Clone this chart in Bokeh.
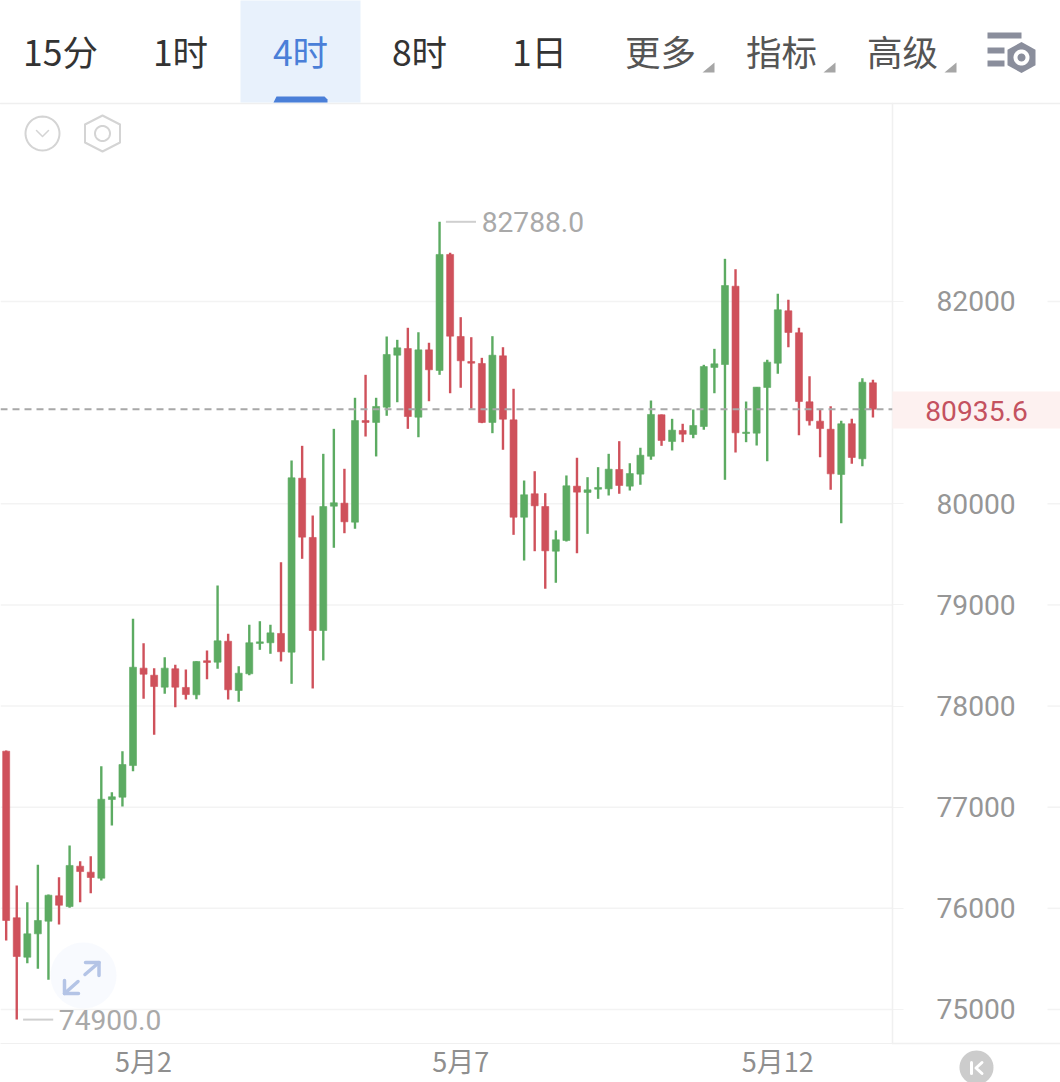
import math
from bokeh.plotting import figure
from bokeh.models import Range1d, FixedTicker, Span, LinearAxis
from bokeh.core.properties import value
from bokeh.embed import file_html
from bokeh.resources import INLINE

opens = [77554,75907,75517,75748,75873,76124,76018,76417,76358,76298,77076,77099,77412,78375,78305,78187,78369,78184,78111,78448,78434,78641,78154,78319,78619,78626,78718,78533,80253,79667,78747,79976,80006,79818,80823,80804,80955,81469,81535,80856,81522,81318,82465,81654,81407,81387,80804,81463,80830,79867,80099,79973,79531,79637,80174,80112,80144,80148,80339,80174,80293,80470,80880,80616,80725,80685,80764,81348,81377,82151,80695,80698,81150,81390,81908,81691,81008,80817,80737,80290,80791,80445,81196]
closes = [75880,75524,75748,75880,76130,76031,76424,76364,76305,77079,77103,77422,78384,78315,78193,78375,78187,78114,78441,78431,78645,78161,78325,78626,78635,78724,78537,80257,79670,78747,79973,80010,79822,80823,80804,80962,81476,81542,80863,81522,81325,82465,81657,81414,81390,80804,81469,80836,79867,80089,79980,79535,79644,80178,80115,80138,80161,80342,80181,80299,80480,80883,80626,80728,80688,80774,81357,81384,82158,80702,80708,81153,81400,81918,81694,81011,80821,80744,80296,80791,80458,81202,80935.6]
highs = [77560,76226,76061,76431,76137,76308,76622,76466,76516,77406,77149,77554,78863,78622,78375,78483,78408,78362,78444,78549,79192,78715,78394,78804,78839,78804,79422,80428,80573,79884,80494,80741,80346,81048,81275,81048,81654,81621,81740,81696,81592,82788,82482,81845,81647,81443,81657,81548,81137,80230,80322,80105,79736,80280,80455,80263,80362,80494,80619,80401,80554,81021,80883,80840,80791,80932,81374,81532,82422,82319,81011,81153,81424,82076,82017,81740,81261,80932,80965,80821,80840,81242,81226]
lows = [75682,74900,75458,75402,75294,75840,76006,76061,76150,76275,76819,77007,77356,78072,77716,78121,77989,78065,78068,78266,78369,78065,78042,78305,78556,78517,78441,78220,79456,78174,78451,79565,79709,79753,80665,80468,80870,81004,80741,80658,81014,81275,81093,81147,80939,80797,80698,80534,79693,79439,79531,79160,79219,79627,79511,79703,80049,80082,80099,80131,80188,80435,80573,80527,80609,80648,80732,81093,80237,80507,80609,80576,80421,81285,81548,80678,80774,80461,80138,79808,80395,80372,80853]
price_ticks = [75000,76000,77000,78000,79000,80000,82000]
date_ticks = {13: "5月2", 43: "5月7", 73: "5月12"}
tabs = ["15分", "1时", "4时", "8时", "1日", "更多", "指标", "高级"]
tab_x = [60, 180, 300, 419, 539, 660, 781, 902]

GREEN = "#5cab62"
RED = "#cf515b"
CJK = "Noto Sans CJK SC"
NUM = "Roboto"

p = figure(width=1060, height=1082, output_backend="svg", toolbar_location=None,
           x_range=Range1d(-0.5364, 83.85), y_range=Range1d(74663.8, 83957.6),
           min_border_left=0, min_border_right=168, min_border_top=103, min_border_bottom=39,
           outline_line_color=None, background_fill_color="white", border_fill_color="white",
           x_axis_type=None, y_axis_type=None)
p.extra_x_ranges["px"] = Range1d(0, 892)
p.extra_y_ranges["py"] = Range1d(1043, 103)

# axes
yax = LinearAxis(ticker=FixedTicker(ticks=price_ticks))
yax.axis_line_color = "#f0f0f0"
yax.major_tick_line_color = "#f3f3f3"
yax.major_tick_out = 11
yax.major_tick_in = 0
yax.minor_tick_line_color = None
yax.major_label_standoff = 33
yax.major_label_text_font = NUM
yax.major_label_text_font_size = "28.2px"
yax.major_label_text_color = "#969696"
yax.major_label_orientation = "horizontal"
p.add_layout(yax, "right")

xax = LinearAxis(ticker=FixedTicker(ticks=list(date_ticks)), major_label_overrides=date_ticks)
xax.axis_line_color = "#f0f0f0"
xax.major_tick_line_color = None
xax.major_tick_out = 0
xax.major_tick_in = 0
xax.minor_tick_line_color = None
xax.major_label_standoff = -3
xax.major_label_text_font = CJK
xax.major_label_text_font_size = "27px"
xax.major_label_text_color = "#8f8f8f"
p.add_layout(xax, "below")

# horizontal grid
idx = list(range(len(opens)))
p.segment(x0=[0]*len(price_ticks), x1=[892]*len(price_ticks), y0=price_ticks, y1=price_ticks,
          x_range_name="px", line_color="#f3f3f3", line_width=1.5)

# candles
colors = [GREEN if c >= o else RED for o, c in zip(opens, closes)]
p.segment(x0=idx, x1=idx, y0=lows, y1=highs, line_color=colors, line_width=2.4)
p.quad(left=[i-0.33 for i in idx], right=[i+0.33 for i in idx],
       bottom=[min(o, c) for o, c in zip(opens, closes)],
       top=[max(o, c) for o, c in zip(opens, closes)],
       fill_color=colors, line_color=colors, line_width=0.6)

# last price
last = closes[-1]
p.add_layout(Span(location=last, dimension="width", line_color="#a8a8a8", line_width=2, line_dash="7 5", level="overlay"))

# high / low markers
hi = highs.index(max(highs))
lo = lows.index(min(lows))
for i, v in ((hi, highs[hi]), (lo, lows[lo])):
    p.segment(x0=[i+0.6], x1=[i+3.45], y0=[v], y1=[v], line_color="#cfcfcf", line_width=2, level="overlay")
    p.text(x=[i+3.98], y=[v], text=[f"{v:.1f}"], text_font=value(NUM), text_font_size="28.2px",
           text_color="#a9a9a9", text_align="left", text_baseline="middle", level="overlay")

# interface chrome in page pixels
ui = dict(x_range_name="px", y_range_name="py", level="overlay")

def poly(xs, ys, color, alpha=1.0):
    p.patch(x=xs, y=ys, fill_color=color, fill_alpha=alpha, line_color=None, **ui)

def stroke(xs, ys, color, width):
    p.line(x=xs, y=ys, line_color=color, line_width=width, line_cap="round", line_join="round", **ui)

def ring(cx, cy, r):
    n = 48
    return ([cx + r*math.cos(2*math.pi*k/n) for k in range(n+1)],
            [cy + r*math.sin(2*math.pi*k/n) for k in range(n+1)])

def dot(cx, cy, r, color, alpha=1.0):
    xs, ys = ring(cx, cy, r)
    poly(xs, ys, color, alpha)

def hexagon(cx, cy, rx, ry):
    return ([cx, cx+rx, cx+rx, cx, cx-rx, cx-rx, cx], [cy-ry, cy-ry/2, cy+ry/2, cy+ry, cy+ry/2, cy-ry/2, cy-ry])

# frame lines beyond the plot
stroke([0, 1060], [103, 103], "#efefef", 1.5)
stroke([892, 1060], [1043, 1043], "#f0f0f0", 1.5)
stroke([892, 892], [103, 1043], "#f0f0f0", 1.5)
p.segment(x0=[1047]*len(price_ticks), x1=[1060]*len(price_ticks), y0=price_ticks, y1=price_ticks,
          x_range_name="px", line_color="#f3f3f3", line_width=1.5, level="overlay")

# toolbar
poly([240, 360, 360, 240], [0, 0, 102, 102], "#e8f1fc")
poly([273, 276, 324, 327, 327, 273], [102, 96, 96, 99, 102, 102], "#4a7fd8")
for t, x, i in zip(tabs, tab_x, range(len(tabs))):
    col = "#4a7fd8" if i == 2 else ("#333333" if i < 5 else "#555555")
    p.text(x=[x], y=[50], text=[t], text_font=value(CJK), text_font_size="35.5px", text_color=col,
           text_align="center", text_baseline="middle", **ui)
for x in (714, 835, 956):
    poly([x, x, x-12], [62, 72, 72], "#a6a6a6")

# settings icon
for x0, x1, y0, y1 in ((987, 1021, 32, 38), (987, 1004, 47, 53), (987, 1004, 60, 66)):
    poly([x0, x1, x1, x0], [y0, y0, y1, y1], "#8a8e9c")
hx, hy = hexagon(1021, 57, 14, 15.5)
poly(hx, hy, "#8a8e9c")
dot(1021, 57, 8, "white")
dot(1021, 57, 4, "#8a8e9c")

# small icons under the toolbar
xs, ys = ring(42, 133, 17)
stroke(xs, ys, "#d4d4d4", 2)
stroke([36, 42, 48], [130, 136, 130], "#d4d4d4", 1.5)
hx, hy = hexagon(102, 133, 17.5, 18)
stroke(hx, hy, "#d4d4d4", 2)
xs, ys = ring(102, 133, 7.5)
stroke(xs, ys, "#d4d4d4", 2)

# price tag
poly([892, 1060, 1060, 892], [391, 391, 428, 428], "#fdf1f0")
p.text(x=[976], y=[410], text=[f"{last:.1f}"], text_font=value(NUM), text_font_size="28.2px",
       text_color="#c4525f", text_align="center", text_baseline="middle", **ui)

# expand button
dot(83, 975, 33, "#eef3fc", 0.4)
stroke([84.5, 98.5], [974, 962], "#b4c4e6", 3.5)
stroke([85, 98.5, 98.5], [962, 962, 975], "#b4c4e6", 3.5)
stroke([64, 77.5], [993, 981], "#b4c4e6", 3.5)
stroke([64, 64, 78], [980, 993, 993], "#b4c4e6", 3.5)

# history button
dot(976, 1067, 17, "#cccccc")
stroke([971, 971], [1062, 1073], "white", 3)
stroke([981.5, 975.5, 981.5], [1062, 1067.5, 1073], "white", 3)

open("out.html", "w").write(file_html(p, INLINE))
